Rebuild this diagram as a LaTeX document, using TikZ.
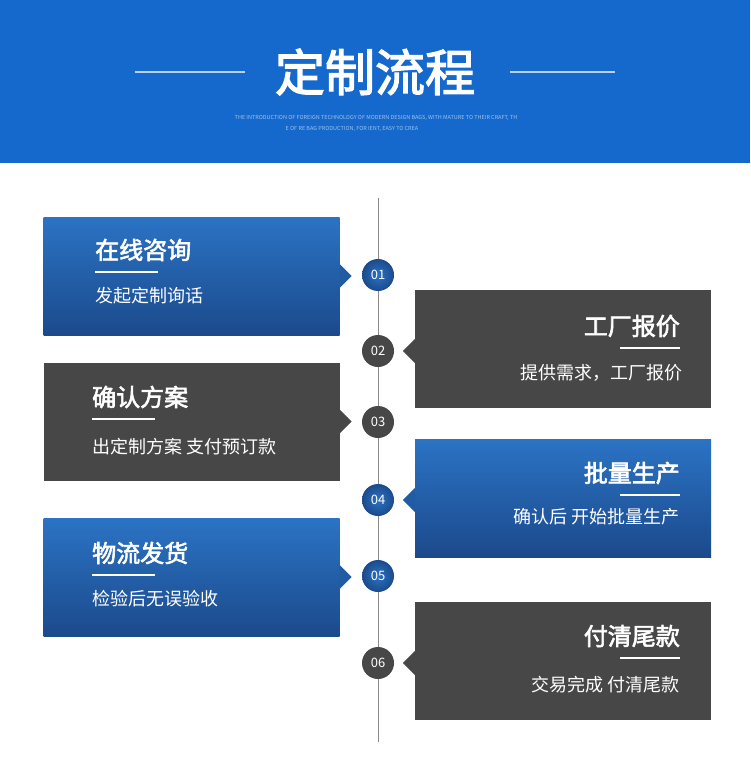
\documentclass[tikz,border=0pt]{standalone}
\usepackage{fontspec}
\setmainfont{Noto Sans CJK SC}
\newfontfamily\cjkb[FakeBold=2.5]{Noto Sans CJK SC}
\usetikzlibrary{positioning, calc}
\definecolor{hdrblue}{HTML}{1568CC}
\definecolor{boxblueA}{HTML}{2B73C4}
\definecolor{boxblueB}{HTML}{1B4A8C}
\definecolor{boxgray}{HTML}{474747}
\definecolor{linegray}{HTML}{8A8A8A}
\tikzset{
  stepbox/.style={minimum width=296pt, minimum height=118pt, inner sep=0pt},
  bluebox/.style={stepbox, top color=boxblueA, bottom color=boxblueB, draw=none},
  graybox/.style={stepbox, fill=boxgray},
  bluenum/.style={circle, minimum size=32pt, inner sep=0pt, inner color=boxblueA, outer color=boxblueB, text=white, font=\fontsize{13}{13}\selectfont},
  graynum/.style={circle, minimum size=32pt, inner sep=0pt, fill=boxgray, text=white, font=\fontsize{13}{13}\selectfont},
  steptitle/.style={text=white, font=\cjkb\fontsize{24}{24}\selectfont, inner sep=0pt},
  stepsub/.style={text=white, font=\fontsize{18}{18}\selectfont, inner sep=0pt},
}
\begin{document}
\begin{tikzpicture}[x=1pt,y=-1pt]
  \useasboundingbox (0,0) rectangle (750,765);
  \fill[white] (0,0) rectangle (750,765);

  % header
  \fill[hdrblue] (0,0) rectangle (750,163);
  \node[text=white, font=\cjkb\fontsize{50}{50}\selectfont] (title) at (375,72) {定制流程};
  \draw[white!70!hdrblue, line width=1.5pt] (135,72) -- (245,72);
  \draw[white!70!hdrblue, line width=1.5pt] (510,72) -- (615,72);
  \node[text=white!60!hdrblue, font=\fontsize{5.5}{5.5}\selectfont, inner sep=0pt] (en1) at (376,118) {THE INTRODUCTION OF FOREIGN TECHNOLOGY OF MODERN DESIGN BAGS, WITH MATURE TO THEIR CRAFT, TH};
  \node[text=white!60!hdrblue, font=\fontsize{5.5}{5.5}\selectfont, inner sep=0pt] (en2) at (352,129) {E OF RE BAG PRODUCTION, FOR IENT, EASY TO CREA};

  % timeline
  \coordinate (ltop) at (378,198);
  \coordinate (lbot) at (378,742);
  \draw[linegray, line width=1pt] (ltop) -- (lbot);

  % left boxes
  \node[bluebox] (b1) at (191.5,276) {};
  \node[graybox] (b3) at (191.5,421.5) {};
  \node[bluebox] (b5) at (191.5,577) {};
  % right boxes
  \node[graybox] (b2) at (563,349) {};
  \node[bluebox] (b4) at (563,498) {};
  \node[graybox] (b6) at (563,661) {};

  % pointers
  \fill[boxblueB!60!boxblueA] ($(b1.east)+(0,-12)$) -- ($(b1.east)+(12,0)$) -- ($(b1.east)+(0,12)$) -- cycle;
  \fill[boxgray] ($(b3.east)+(0,-12)$) -- ($(b3.east)+(12,0)$) -- ($(b3.east)+(0,12)$) -- cycle;
  \fill[boxblueB!60!boxblueA] ($(b5.east)+(0,-12)$) -- ($(b5.east)+(12,0)$) -- ($(b5.east)+(0,12)$) -- cycle;
  \fill[boxgray] ($(b2.west)+(0,-10)$) -- ($(b2.west)+(-12,2)$) -- ($(b2.west)+(0,14)$) -- cycle;
  \fill[boxblueB!60!boxblueA] ($(b4.west)+(0,-10)$) -- ($(b4.west)+(-12,2)$) -- ($(b4.west)+(0,14)$) -- cycle;
  \fill[boxgray] ($(b6.west)+(0,-10)$) -- ($(b6.west)+(-12,2)$) -- ($(b6.west)+(0,14)$) -- cycle;

  % numbers
  \node[bluenum] (n1) at (378,275) {01};
  \node[graynum] (n2) at (378,351) {02};
  \node[graynum] (n3) at (378,422) {03};
  \node[bluenum] (n4) at (378,500) {04};
  \node[bluenum] (n5) at (378,576) {05};
  \node[graynum] (n6) at (378,663) {06};

  % texts, left
  \node[steptitle, anchor=west] (t1) at (95,250) {在线咨询};
  \draw[white, line width=2pt] (95,272) -- (158,272);
  \node[stepsub, anchor=west] (s1) at (95,296) {发起定制询话};
  \node[steptitle, anchor=west] (t3) at (92,397) {确认方案};
  \draw[white, line width=2pt] (92,419) -- (155,419);
  \node[stepsub, anchor=west] (s3) at (92,447) {出定制方案 支付预订款};
  \node[steptitle, anchor=west] (t5) at (92,553) {物流发货};
  \draw[white, line width=2pt] (92,575) -- (155,575);
  \node[stepsub, anchor=west] (s5) at (92,599) {检验后无误验收};

  % texts, right
  \node[steptitle, anchor=east] (t2) at (680,326) {工厂报价};
  \draw[white, line width=2pt] (620,348) -- (680,348);
  \node[stepsub, anchor=east] (s2) at (683,373) {提供需求，工厂报价};
  \node[steptitle, anchor=east] (t4) at (680,473) {批量生产};
  \draw[white, line width=2pt] (620,495) -- (680,495);
  \node[stepsub, anchor=east] (s4) at (680,517) {确认后 开始批量生产};
  \node[steptitle, anchor=east] (t6) at (680,636) {付清尾款};
  \draw[white, line width=2pt] (620,658) -- (680,658);
  \node[stepsub, anchor=east] (s6) at (680,685) {交易完成 付清尾款};
\end{tikzpicture}
\end{document}
